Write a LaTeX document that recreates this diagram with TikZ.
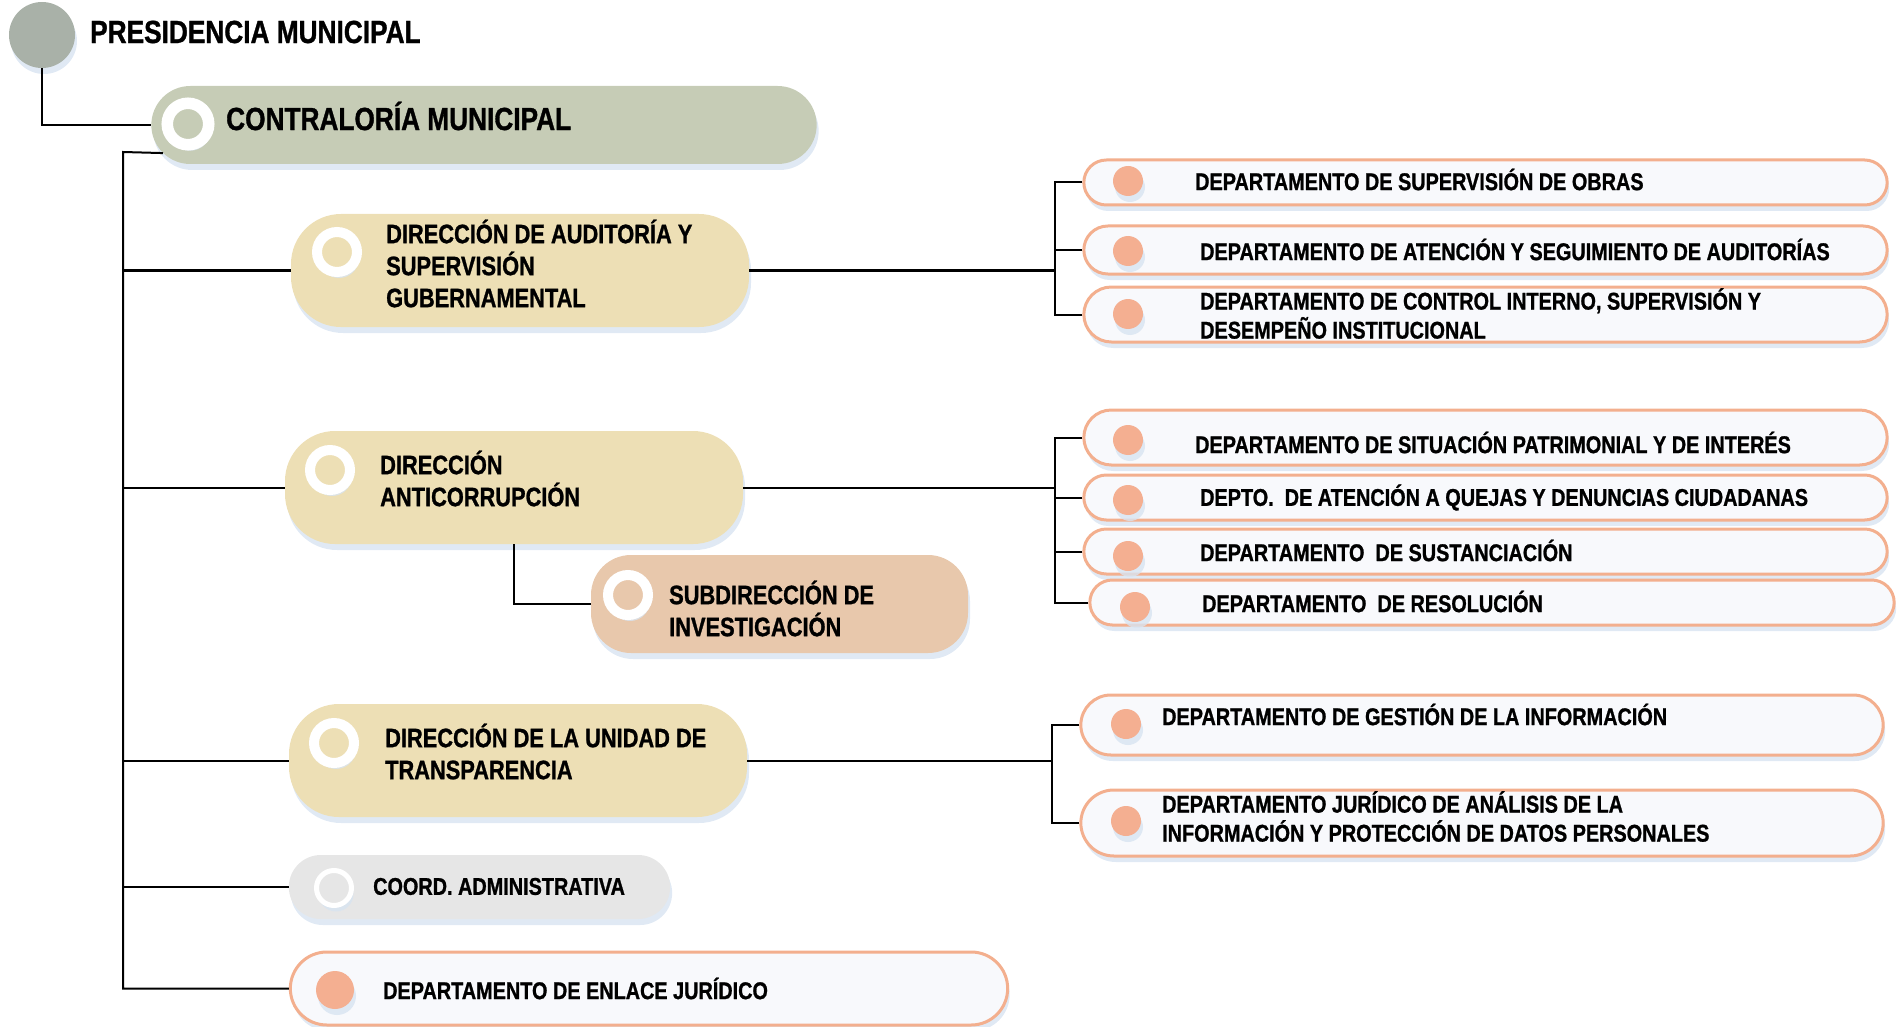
\documentclass[tikz,border=0pt]{standalone}
\usepackage{fontspec}
\setmainfont{Liberation Sans}[FakeStretch=0.82, BoldFeatures={FakeBold=1}]
\usepackage{xcolor}
\usetikzlibrary{shapes.misc,shadows,calc}

\definecolor{presgray}{HTML}{A9B1A8}
\definecolor{contrafill}{HTML}{C6CCB6}
\definecolor{dirfill}{HTML}{EDDFB5}
\definecolor{subfill}{HTML}{E8C8AC}
\definecolor{coordfill}{HTML}{E6E6E6}
\definecolor{deptline}{HTML}{F3AF8E}
\definecolor{deptfill}{HTML}{F8F9FC}
\definecolor{deptdot}{HTML}{F4AF91}
\definecolor{shadowblue}{HTML}{D8E4F1}

\tikzset{
  link/.style={draw=black, line width=2pt},
  softshadow/.style={drop shadow={shadow xshift=2pt, shadow yshift=-6pt, fill=shadowblue, opacity=0.8}},
  dirbox/.style={rectangle, rounded corners=50pt, fill=dirfill, softshadow,
                 minimum width=458pt, minimum height=113pt},
  deptbox/.style={rounded rectangle, draw=deptline, line width=3pt, fill=deptfill, softshadow,
                  minimum width=810pt},
  ring/.style={circle, draw=white, line width=10pt, minimum size=40pt, inner sep=0pt, softshadow},
  dot/.style={circle, fill=deptdot, minimum size=30pt, inner sep=0pt, softshadow},
  bigtxt/.style={anchor=west, inner sep=0pt, font=\bfseries\fontsize{32}{36}\selectfont},
  dirtxt/.style={anchor=west, align=left, inner sep=0pt, font=\bfseries\fontsize{26.6}{32}\selectfont},
  depttxt/.style={anchor=west, align=left, inner sep=0pt, font=\bfseries\fontsize{24.2}{29}\selectfont}
}

\begin{document}
\begin{tikzpicture}[x=1pt, y=-1pt]
  \useasboundingbox (0,0) rectangle (1904,1027);

  % top levels
  \node [circle, fill=presgray, minimum size=66pt, inner sep=0pt, softshadow] (pres) at (42,35) {};
  \node [bigtxt] (prestxt) at (90,32) {PRESIDENCIA MUNICIPAL};

  \node [rounded rectangle, fill=contrafill, softshadow, minimum width=672pt, minimum height=78pt] (contra) at (484,125) {};
  \node [ring, fill=contrafill, line width=11.5pt, minimum size=41.5pt] (contraring) at (188,124) {};
  \node [bigtxt] (contratxt) at (226,116) {CONTRALORÍA MUNICIPAL};

  % direcciones
  \node [dirbox] (aud) at (520,270.5) {};
  \node [ring, fill=dirfill] (audring) at (337,252) {};
  \node [dirtxt] (audtxt) at (386,263.5) {DIRECCIÓN DE AUDITORÍA Y\\SUPERVISIÓN\\GUBERNAMENTAL};

  \node [dirbox] (anti) at (514,487.5) {};
  \node [ring, fill=dirfill] (antiring) at (330,470) {};
  \node [dirtxt] (antitxt) at (380,478.5) {DIRECCIÓN\\ANTICORRUPCIÓN};

  \node [dirbox, fill=subfill, rounded corners=40pt, minimum width=377pt, minimum height=98pt] (sub) at (779.5,604) {};
  \node [ring, fill=subfill] (subring) at (628,595) {};
  \node [dirtxt] (subtxt) at (669,608.5) {SUBDIRECCIÓN DE\\INVESTIGACIÓN};

  \node [dirbox] (trans) at (518,760.5) {};
  \node [ring, fill=dirfill] (transring) at (334,743) {};
  \node [dirtxt] (transtxt) at (385,751.5) {DIRECCIÓN DE LA UNIDAD DE\\TRANSPARENCIA};

  \node [rounded rectangle, fill=coordfill, softshadow, minimum width=388pt, minimum height=64pt] (coord) at (479.5,887) {};
  \node [ring, fill=coordfill, line width=5pt, minimum size=35pt] (coordring) at (334,888) {};
  \node [depttxt] (coordtxt) at (373,886.5) {COORD. ADMINISTRATIVA};

  \node [deptbox, minimum width=724pt, minimum height=73pt] (enlace) at (649,988.5) {};
  \node [dot, minimum size=38pt] (enlacedot) at (335,990) {};
  \node [depttxt] (enlacetxt) at (383,988.5) {DEPARTAMENTO DE ENLACE JURÍDICO};

  % departamentos de auditoria
  \node [deptbox, minimum height=45pt] (obras) at (1485.5,182.5) {};
  \node [dot] (obrasdot) at (1128,181) {};
  \node [depttxt] (obrastxt) at (1195,179.5) {DEPARTAMENTO DE SUPERVISIÓN DE OBRAS};

  \node [deptbox, minimum height=48pt] (segui) at (1485.5,250) {};
  \node [dot] (seguidot) at (1128,251) {};
  \node [depttxt] (seguitxt) at (1200,249.5) {DEPARTAMENTO DE ATENCIÓN Y SEGUIMIENTO DE AUDITORÍAS};

  \node [deptbox, minimum height=55pt] (control) at (1485.5,314.5) {};
  \node [dot] (controldot) at (1128,314) {};
  \node [depttxt] (controltxt) at (1200,313.5) {DEPARTAMENTO DE CONTROL INTERNO, SUPERVISIÓN Y\\DESEMPEÑO INSTITUCIONAL};

  % departamentos anticorrupcion
  \node [deptbox, minimum height=55pt] (patri) at (1485.5,437.5) {};
  \node [dot] (patridot) at (1128,440) {};
  \node [depttxt] (patritxt) at (1195,442.5) {DEPARTAMENTO DE SITUACIÓN PATRIMONIAL Y DE INTERÉS};

  \node [deptbox, minimum height=45pt] (quejas) at (1485.5,497.5) {};
  \node [dot] (quejasdot) at (1128,500) {};
  \node [depttxt] (quejastxt) at (1200,497.5) {DEPTO.\ \ DE ATENCIÓN A QUEJAS Y DENUNCIAS CIUDADANAS};

  \node [deptbox, minimum height=45pt] (sustan) at (1485.5,551.5) {};
  \node [dot] (sustandot) at (1128,556) {};
  \node [depttxt] (sustantxt) at (1200,550.5) {DEPARTAMENTO\ \ DE SUSTANCIACIÓN};

  \node [deptbox, minimum width=811pt, minimum height=45pt] (resol) at (1492,602.5) {};
  \node [dot] (resoldot) at (1135,607) {};
  \node [depttxt] (resoltxt) at (1202,601.5) {DEPARTAMENTO\ \ DE RESOLUCIÓN};

  % departamentos transparencia
  \node [deptbox, minimum width=809pt, minimum height=60pt] (gestion) at (1482,725) {};
  \node [dot] (gestiondot) at (1126,724) {};
  \node [depttxt] (gestiontxt) at (1162,714.5) {DEPARTAMENTO DE GESTIÓN DE LA INFORMACIÓN};

  \node [deptbox, minimum width=809pt, minimum height=66pt] (juridico) at (1482,823) {};
  \node [dot] (juridicodot) at (1126,821) {};
  \node [depttxt] (juridicotxt) at (1162,816.5) {DEPARTAMENTO JURÍDICO DE ANÁLISIS DE LA\\INFORMACIÓN Y PROTECCIÓN DE DATOS PERSONALES};

  % connectors
  \coordinate (ttop) at (123,152);
  \coordinate (tbot) at (123,988.5);
  \coordinate (f1) at (1055,270);
  \coordinate (f2) at (1055,487);
  \coordinate (f3) at (1052,761);

  \draw [link] (pres) |- (contra.west);
  \draw [link] (contra.185) -- (ttop) -- (tbot) -- (enlace.west);
  \foreach \n in {aud,anti,trans,coord}
    \draw [link] (\n.west) -- (\n.west -| ttop);
  \draw [link] (anti.south) |- (sub.west);

  \draw [link] (aud.east) -- (aud.east -| f1);
  \foreach \n in {obras,segui,control}
    \draw [link] (\n.west) -| (f1);
  \draw [link] (anti.east) -- (anti.east -| f2);
  \foreach \n in {patri,quejas,sustan,resol}
    \draw [link] (\n.west) -| (f2);
  \draw [link] (trans.east) -- (trans.east -| f3);
  \foreach \n in {gestion,juridico}
    \draw [link] (\n.west) -| (f3);
\end{tikzpicture}
\end{document}
